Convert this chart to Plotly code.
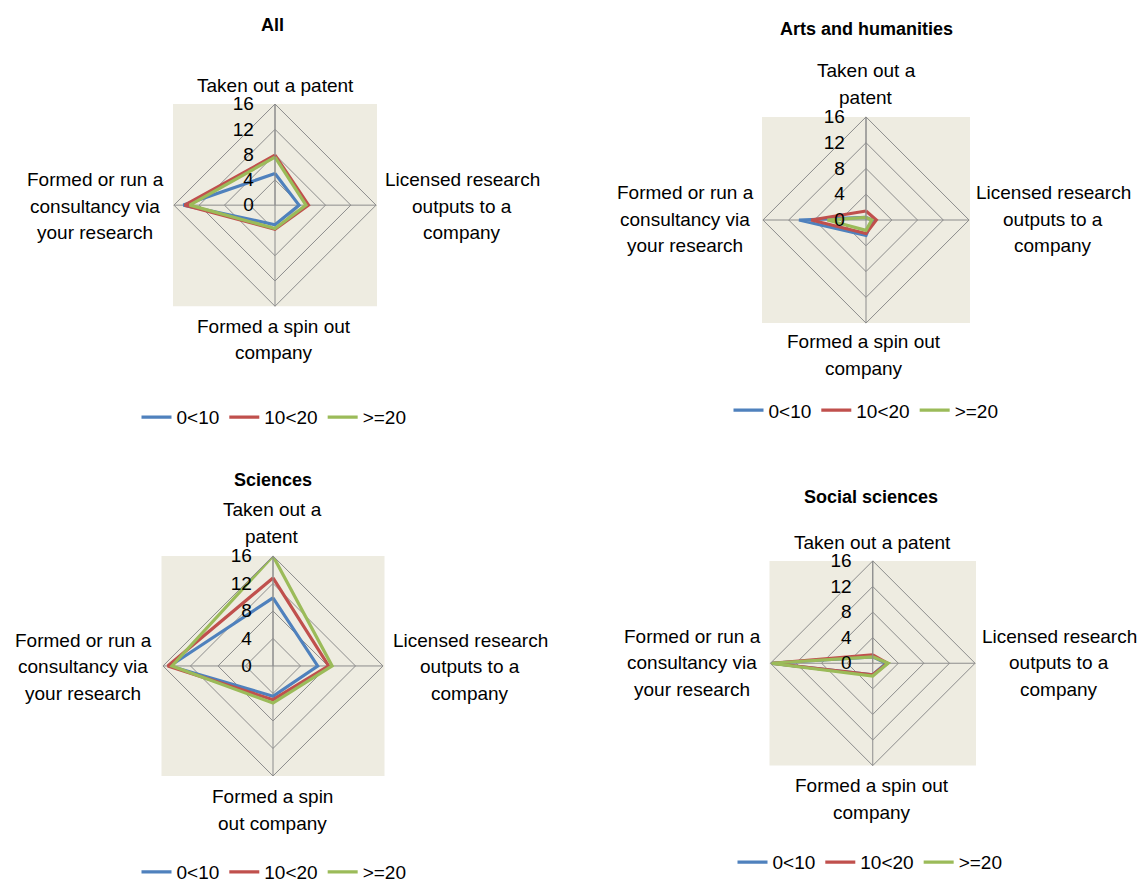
import plotly.graph_objects as go

W, H = 1142, 891

# Categories (clockwise from the top) and the value of each age band
categories = [
    "Taken out a patent",
    "Licensed research outputs to a company",
    "Formed a spin out company",
    "Formed or run a consultancy via your research",
]
bands = ["0<10", "10<20", ">=20"]
band_colors = ["#4F81BD", "#C0504D", "#9BBB59"]

panel_titles = ["All", "Arts and humanities", "Sciences", "Social sciences"]

all_values = {
    "0<10": [5.0, 3.8, 3.1, 14.5],
    "10<20": [7.9, 5.3, 3.8, 14.3],
    ">=20": [7.6, 4.9, 3.7, 13.5],
}
arts_values = {
    "0<10": [0.4, 1.0, 2.4, 10.4],
    "10<20": [1.4, 1.6, 2.1, 8.5],
    ">=20": [0.4, 0.9, 1.6, 6.0],
}
sciences_values = {
    "0<10": [9.9, 6.5, 4.4, 15.0],
    "10<20": [12.8, 8.1, 4.9, 15.3],
    ">=20": [16.0, 8.6, 5.4, 14.7],
}
social_values = {
    "0<10": [1.0, 2.1, 1.8, 16.0],
    "10<20": [1.3, 2.3, 1.8, 15.8],
    ">=20": [1.0, 2.4, 2.0, 16.0],
}
panel_values = [all_values, arts_values, sciences_values, social_values]

radial_ticks = [0, 4, 8, 12, 16]

# Wrapped category labels as they are set in each panel (top, right, bottom, left)
panel_labels = [
    [["Taken out a patent"],
     ["Licensed research", "outputs to a", "company"],
     ["Formed a spin out", "company"],
     ["Formed or run a", "consultancy via", "your research"]],
    [["Taken out a", "patent"],
     ["Licensed research", "outputs to a", "company"],
     ["Formed a spin out", "company"],
     ["Formed or run a", "consultancy via", "your research"]],
    [["Taken out a", "patent"],
     ["Licensed research", "outputs to a", "company"],
     ["Formed a spin", "out company"],
     ["Formed or run a", "consultancy via", "your research"]],
    [["Taken out a patent"],
     ["Licensed research", "outputs to a", "company"],
     ["Formed a spin out", "company"],
     ["Formed or run a", "consultancy via", "your research"]],
]

# Layout in pixels: plot square (x0, x1, y0, y1), title centre, legend centre,
# and the centre of each wrapped label block (top, right, bottom, left)
panel_layout = [
    dict(box=(173, 377, 105, 309), title=(272, 25), legend=(274, 421),
         labels=[(275, 86), (462, 208), (274, 342.5), (95, 208)]),
    dict(box=(762, 970, 118, 326), title=(866, 29), legend=(866, 414),
         labels=[(866, 85), (1053, 221), (864, 358.5), (685, 221)]),
    dict(box=(161.5, 384.5, 561, 783), title=(273, 484), legend=(274, 880),
         labels=[(272, 527.5), (470, 673), (272, 817.5), (83, 673)]),
    dict(box=(769.5, 976, 566, 772.5), title=(871, 502), legend=(870, 870),
         labels=[(872, 547), (1059, 669), (872, 806.5), (692, 669)]),
]

FONT = "Liberation Sans, Arial, sans-serif"
GRID = "#8C8C8C"
BG = "#EEECE1"
LINE_GAP = 27

fig = go.Figure()
annotations = []
shapes = []

for i, (values, labels, lay, title) in enumerate(
        zip(panel_values, panel_labels, panel_layout, panel_titles)):
    pname = "polar" if i == 0 else f"polar{i + 1}"
    lname = "legend" if i == 0 else f"legend{i + 1}"
    for band, color in zip(bands, band_colors):
        r = values[band]
        fig.add_trace(go.Scatterpolar(
            r=r + r[:1],
            theta=categories + categories[:1],
            mode="lines",
            name=band,
            line=dict(color=color, width=3.2),
            subplot=pname,
            legend=lname,
            hoverinfo="skip",
        ))

    x0, x1, y0, y1 = lay["box"]
    shapes.append(dict(type="rect", xref="paper", yref="paper",
                       x0=x0 / W, x1=x1 / W, y0=1 - y1 / H, y1=1 - y0 / H,
                       fillcolor=BG, line=dict(width=0), layer="below"))

    fig.layout[pname] = dict(
        domain=dict(x=[x0 / W, x1 / W], y=[1 - y1 / H, 1 - y0 / H]),
        gridshape="linear",
        bgcolor="rgba(0,0,0,0)",
        radialaxis=dict(
            range=[0, 16], tickvals=radial_ticks,
            ticktext=[str(t) for t in radial_ticks],
            angle=90, side="counterclockwise", tickangle=90,
            showline=True, linecolor=GRID, linewidth=1,
            gridcolor=GRID, gridwidth=1,
            ticks="outside", ticklen=14, tickcolor="rgba(0,0,0,0)",
            tickfont=dict(family=FONT, size=19, color="#000000"),
        ),
        angularaxis=dict(
            categoryorder="array", categoryarray=categories,
            rotation=90, direction="clockwise",
            showticklabels=False, ticks="",
            showline=True, linecolor=GRID, linewidth=1,
            gridcolor=GRID, gridwidth=1,
        ),
    )

    lx, ly = lay["legend"]
    fig.layout[lname] = dict(
        orientation="h", x=lx / W, y=1 - ly / H,
        xanchor="center", yanchor="middle",
        font=dict(family=FONT, size=19, color="#000000"),
        bgcolor="rgba(0,0,0,0)", itemwidth=30, tracegroupgap=0,
    )

    tx, ty = lay["title"]
    annotations.append(dict(
        text=f"<b>{title}</b>", x=tx / W, y=1 - ty / H, xref="paper", yref="paper",
        showarrow=False, xanchor="center", yanchor="middle",
        font=dict(family=FONT, size=18, color="#000000")))

    for lines, (cx, cy) in zip(labels, lay["labels"]):
        n = len(lines)
        for k, line in enumerate(lines):
            yy = cy + (k - (n - 1) / 2) * LINE_GAP
            annotations.append(dict(
                text=line, x=cx / W, y=1 - yy / H, xref="paper", yref="paper",
                showarrow=False, xanchor="center", yanchor="middle",
                font=dict(family=FONT, size=19, color="#000000")))

fig.update_layout(
    width=W, height=H,
    margin=dict(l=0, r=0, t=0, b=0),
    paper_bgcolor="#FFFFFF",
    plot_bgcolor="#FFFFFF",
    annotations=annotations,
    shapes=shapes,
    showlegend=True,
)

fig.write_html("out.html")
